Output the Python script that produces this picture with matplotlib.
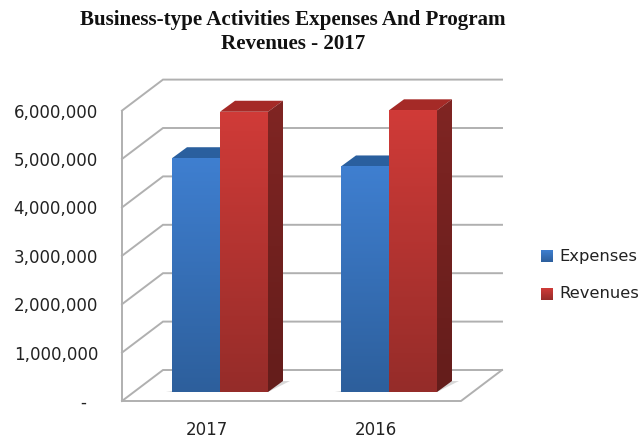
import matplotlib
matplotlib.use("Agg")
import matplotlib.pyplot as plt
from matplotlib.patches import Polygon
import numpy as np

TITLE_LINES = ["Business-type Activities Expenses And Program", "Revenues - 2017"]
CATEGORIES = ["2017", "2016"]
SERIES = ["Expenses", "Revenues"]
EXPENSES = [4830000, 4660000]
REVENUES = [5790000, 5820000]
TICKS = [0, 1000000, 2000000, 3000000, 4000000, 5000000, 6000000]
TICK_LABELS = ["-", "1,000,000", "2,000,000", "3,000,000", "4,000,000", "5,000,000", "6,000,000"]

# pixel geometry of the oblique box
W, H = 642, 440
X0, X1 = 122, 461       # front floor edge
Y0 = 401                # front floor y
PX_PER_UNIT = 48.4 / 1e6
DX, DY = 41, -31        # wall depth
BAR_W = 48
BAR_DX, BAR_DY = 15, -11
BAR_BASE = 392
BAR_LEFT = [172, 341]
GRID = "#b0b0b0"

BLUE = ("#3f7fd0", "#2d5f9c", "#2a5f9e", "#23527f")   # front top/bottom, top face, side
RED = ("#d03b38", "#952c29", "#a52a27", "#802523")

def val_h(v):
    return v * PX_PER_UNIT

fig = plt.figure(figsize=(W / 100, H / 100), dpi=100)
ax = fig.add_axes([0, 0, 1, 1])
ax.set_xlim(0, W); ax.set_ylim(H, 0); ax.axis("off")

def grad_poly(pts, c_top, c_bot, z):
    """Polygon filled with a vertical gradient."""
    pts = np.array(pts, float)
    poly = Polygon(pts, closed=True, fc="none", ec="none", transform=ax.transData)
    ax.add_patch(poly)
    cmap = matplotlib.colors.LinearSegmentedColormap.from_list("g", [c_top, c_bot])
    im = ax.imshow(np.linspace(0, 1, 128)[:, None], cmap=cmap, aspect="auto", zorder=z,
                   extent=[pts[:, 0].min(), pts[:, 0].max(), pts[:, 1].max(), pts[:, 1].min()],
                   interpolation="bilinear")
    im.set_clip_path(poly)

# walls and gridlines
for t in TICKS:
    y = Y0 - val_h(t)
    ax.plot([X0, X0 + DX, X1 + DX], [y, y + DY, y + DY], color=GRID, lw=1.4, zorder=1,
            solid_joinstyle="miter")
ax.plot([X0, X0], [Y0, Y0 - val_h(TICKS[-1])], color=GRID, lw=1.4, zorder=1)
ax.plot([X0, X1, X1 + DX], [Y0, Y0, Y0 + DY], color=GRID, lw=1.4, zorder=1)

def bar3d(x, v, cols, z):
    c1, c2, ctop, cside = cols
    top = BAR_BASE - val_h(v)
    r = x + BAR_W
    # soft floor shadow
    ax.add_patch(Polygon([(x - 6, BAR_BASE), (r, BAR_BASE), (r + BAR_DX + 7, BAR_BASE + BAR_DY),
                          (r + BAR_DX, BAR_BASE + BAR_DY)], fc="#d8d8d8", ec="none", zorder=2))
    ax.add_patch(Polygon([(x, top), (x + BAR_DX, top + BAR_DY), (r + BAR_DX, top + BAR_DY), (r, top)],
                         fc=ctop, ec="none", zorder=z))
    grad_poly([(r, top), (r + BAR_DX, top + BAR_DY), (r + BAR_DX, BAR_BASE + BAR_DY), (r, BAR_BASE)],
              cside, matplotlib.colors.to_hex(np.array(matplotlib.colors.to_rgb(cside)) * 0.78), z)
    grad_poly([(x, top), (r, top), (r, BAR_BASE), (x, BAR_BASE)], c1, c2, z + 0.1)

for i, left in enumerate(BAR_LEFT):
    bar3d(left, EXPENSES[i], BLUE, 3 + i)
    bar3d(left + BAR_W, REVENUES[i], RED, 3.5 + i)

# text
for line, y in zip(TITLE_LINES, [20, 44]):
    ax.text(293, y, line, ha="center", va="center", fontsize=15.1, fontweight="bold",
            family="Liberation Serif", color="#111111")
for t, lab in zip(TICKS, TICK_LABELS):
    ax.text(98 if t else 86, Y0 - val_h(t) + 2, lab, ha="right", va="center", fontsize=12,
            family="DejaVu Sans", color="#222222")
for left, lab in zip(BAR_LEFT, CATEGORIES):
    ax.text(left + 35, 430, lab, ha="center", va="center", fontsize=12,
            family="DejaVu Sans", color="#222222")

# legend
for name, cols, y in zip(SERIES, [BLUE, RED], [256, 294]):
    grad_poly([(541, y - 6), (553, y - 6), (553, y + 6), (541, y + 6)], cols[0], cols[1], 5)
    ax.text(559, y, name, ha="left", va="center", fontsize=11.8, family="DejaVu Sans", color="#222222")
ax.set_xlim(0, W); ax.set_ylim(H, 0)

fig.savefig("out.png", dpi=100, facecolor="white")
